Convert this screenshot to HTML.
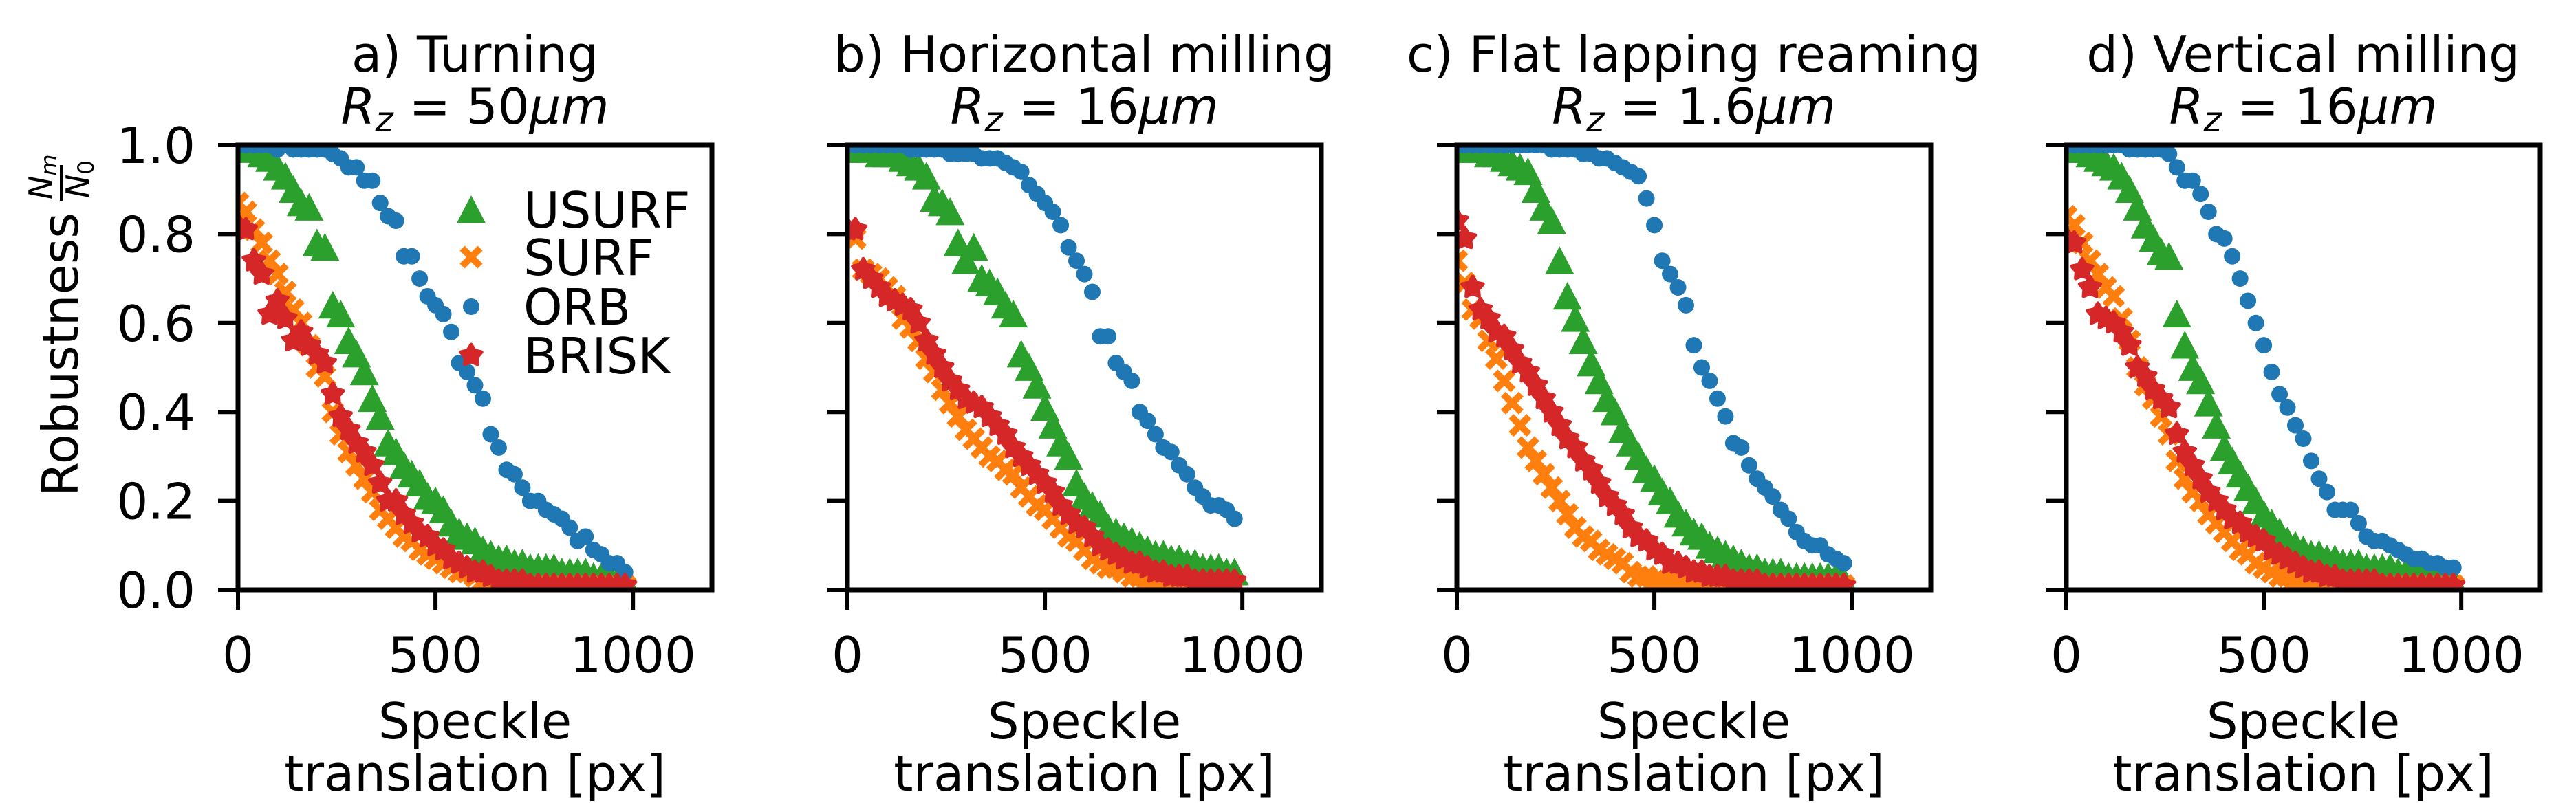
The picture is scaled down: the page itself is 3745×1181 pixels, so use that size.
<!DOCTYPE html>
<html><head><meta charset="utf-8">
<style>
html,body{margin:0;padding:0;background:#fff;}
svg{display:block;font-family:"DejaVu Sans","Liberation Sans",sans-serif;}
</style></head>
<body>
<svg id="fig" xmlns="http://www.w3.org/2000/svg" width="3745" height="1181" viewBox="0 0 3745 1181">
<rect width="3745" height="1181" fill="#fff"/>
</svg>
<script>
// ---- data ----
const xStep = 20;
const panelTitles = ["a) Turning","b) Horizontal milling","c) Flat lapping reaming","d) Vertical milling"];
const panelRz = ["50","16","1.6","16"];
const seriesNames = ["USURF","SURF","ORB","BRISK"];
const xTicks = [0,500,1000];
const xTickLabels = ["0","500","1000"];
const yTicks = [0,0.2,0.4,0.6,0.8,1.0];
const yTickLabels = ["0.0","0.2","0.4","0.6","0.8","1.0"];

const aUSURF=[1.0,.99,.99,.98,.97,.95,.93,.90,.87,.86,.78,.77,.64,.62,.56,.53,.49,.43,.39,.33,.31,.28,.26,.24,.21,.20,.18,.15,.13,.12,.11,.09,.08,.07,.07,.06,.06,.05,.05,.05,.05,.04,.04,.04,.04,.03,.03,.03,.02,.02];
const aSURF=[.87,.85,.81,.78,.74,.71,.67,.63,.60,.55,.50,.48,.40,.35,.31,.28,.25,.22,.18,.16,.14,.12,.11,.09,.08,.07,.06,.05,.04,.04,.03,.02,.02,.01,.01,.01,.01,.01,.01,.01,.01,.01,.01,.01,.01,.01,.01,.01,.01,.01];
const aORB=[1.0,1.0,1.0,1.0,1.0,.99,1.0,.99,.99,.99,.99,.99,.98,.97,.95,.95,.92,.92,.87,.84,.83,.75,.75,.70,.66,.64,.62,.58,.51,.49,.46,.43,.35,.32,.27,.26,.23,.20,.20,.18,.17,.16,.14,.11,.12,.09,.08,.06,.06,.04];
const aBRISK=[.82,.81,.74,.71,.62,.65,.61,.56,.58,.55,.53,.51,.44,.39,.36,.33,.31,.28,.24,.20,.20,.17,.15,.13,.12,.10,.09,.07,.06,.05,.04,.04,.03,.02,.02,.02,.02,.01,.01,.01,.01,.01,.01,.01,.01,.01,.01,.01,.01,.01];

const bUSURF=[.99,.99,.99,.99,.98,.98,.98,.97,.96,.95,.93,.88,.87,.85,.78,.74,.77,.70,.69,.67,.64,.62,.53,.50,.46,.41,.37,.33,.30,.24,.21,.19,.17,.14,.13,.12,.11,.10,.09,.08,.08,.07,.07,.06,.06,.05,.05,.05,.04,.04];
const bSURF=[.80,.79,.72,.71,.70,.68,.66,.61,.59,.56,.52,.49,.45,.42,.39,.36,.34,.32,.30,.29,.27,.26,.23,.21,.19,.18,.16,.14,.12,.11,.09,.07,.06,.05,.05,.04,.03,.03,.02,.02,.02,.01,.01,.01,.01,.01,.01,.01,.01,.01];
const bORB=[1.0,1.0,1.0,1.0,1.0,1.0,1.0,1.0,.99,.99,.99,.99,.99,.98,.98,.98,.98,.97,.97,.97,.96,.95,.94,.91,.89,.87,.85,.82,.77,.74,.71,.67,.57,.57,.51,.49,.47,.40,.38,.35,.32,.31,.28,.26,.23,.21,.19,.19,.18,.16];
const bBRISK=[.81,.81,.72,.70,.68,.66,.65,.64,.63,.60,.56,.53,.50,.47,.45,.43,.42,.41,.39,.37,.35,.32,.30,.28,.26,.24,.22,.19,.17,.15,.14,.12,.10,.09,.08,.07,.06,.06,.05,.04,.04,.03,.03,.03,.02,.02,.02,.02,.02,.02];

const cUSURF=[.99,.99,.99,.99,.98,.98,.97,.96,.95,.94,.90,.86,.83,.74,.66,.61,.56,.51,.47,.43,.40,.36,.33,.30,.27,.25,.22,.20,.17,.15,.13,.12,.10,.09,.08,.07,.06,.05,.05,.04,.04,.04,.03,.03,.03,.03,.03,.03,.03,.02];
const cSURF=[.74,.69,.63,.61,.56,.52,.47,.42,.37,.32,.29,.26,.23,.20,.17,.14,.12,.11,.09,.08,.07,.06,.04,.03,.03,.02,.02,.02,.01,.01,.01,.01,.01,.01,.01,.01,.01,.01,.01,.01,.01,.01,.01,.01,.01,.01,.01,.01,.01,.01];
const cORB=[1.0,1.0,1.0,1.0,1.0,1.0,1.0,1.0,1.0,1.0,1.0,1.0,.99,.99,.99,.99,.98,.98,.97,.97,.96,.95,.94,.93,.88,.82,.74,.71,.68,.64,.55,.50,.47,.43,.39,.33,.32,.28,.25,.23,.21,.18,.16,.13,.11,.10,.10,.08,.07,.06];
const cBRISK=[.83,.79,.68,.63,.61,.58,.57,.54,.51,.49,.46,.43,.40,.37,.34,.32,.29,.27,.24,.21,.19,.17,.14,.12,.11,.09,.08,.06,.06,.05,.04,.04,.03,.03,.03,.02,.02,.02,.02,.01,.01,.01,.01,.01,.01,.01,.01,.01,.01,.01];

const dUSURF=[.99,.99,.99,.98,.97,.96,.95,.93,.90,.86,.82,.79,.76,.75,.62,.55,.50,.47,.42,.37,.32,.29,.26,.23,.20,.17,.15,.13,.11,.10,.09,.08,.08,.07,.07,.06,.06,.06,.05,.05,.05,.05,.04,.04,.04,.04,.03,.03,.03,.02];
const dSURF=[.84,.82,.78,.74,.71,.68,.66,.61,.56,.50,.46,.43,.39,.35,.29,.25,.22,.20,.17,.15,.13,.11,.09,.08,.06,.05,.04,.03,.03,.02,.02,.02,.01,.01,.01,.01,.01,.01,.01,.01,.01,.01,.01,.01,.01,.01,.01,.01,.01,.01];
const dORB=[1.0,1.0,1.0,1.0,1.0,1.0,1.0,1.0,.99,.99,.99,.99,.99,.98,.95,.92,.92,.89,.85,.80,.79,.75,.70,.65,.60,.55,.49,.44,.41,.37,.34,.29,.25,.22,.18,.18,.18,.15,.12,.11,.11,.10,.09,.08,.07,.07,.06,.06,.05,.05];
const dBRISK=[.79,.78,.72,.68,.62,.61,.60,.58,.55,.50,.48,.45,.43,.41,.35,.31,.28,.25,.22,.20,.18,.16,.15,.13,.12,.11,.09,.08,.07,.06,.05,.04,.04,.03,.03,.02,.02,.02,.02,.02,.01,.01,.01,.01,.01,.01,.01,.01,.01,.01];

const panelSeries=[[aUSURF,aSURF,aORB,aBRISK],[bUSURF,bSURF,bORB,bBRISK],[cUSURF,cSURF,cORB,cBRISK],[dUSURF,dSURF,dORB,dBRISK]];

// ---- layout ----
const NS="http://www.w3.org/2000/svg";
const svg=document.getElementById('fig');
const colors=["#2ca02c","#ff7f0e","#1f77b4","#d62728"];
const P0=346, PSTEP=886, PW=689, PT=211, PB=858;
const XMAX=1200;
const FS=72;
function mk(tag,attrs,parent){const e=document.createElementNS(NS,tag);for(const k in attrs)e.setAttribute(k,attrs[k]);(parent||svg).appendChild(e);return e;}
function txt(s,x,y,anchor,parent){
  const t=mk('text',{x:x,y:y,'font-size':FS,'text-anchor':anchor},parent);
  t.textContent=s;return t;
}
function marker(kind,cx,cy,g){
  if(kind===0){const s=21;mk('polygon',{points:`${cx},${cy-s} ${cx-s},${cy+s*0.92} ${cx+s},${cy+s*0.92}`,fill:colors[0]},g);}
  else if(kind===1){const s=13;mk('path',{d:`M${cx-s},${cy-s}L${cx+s},${cy+s}M${cx-s},${cy+s}L${cx+s},${cy-s}`,stroke:colors[1],'stroke-width':10,fill:'none'},g);}
  else if(kind===2){mk('circle',{cx:cx,cy:cy,r:12,fill:colors[2]},g);}
  else {let pts=[];for(let i=0;i<10;i++){const r=i%2?9:16;const a=-Math.PI/2+i*Math.PI/5;pts.push((cx+r*Math.cos(a)).toFixed(1)+','+(cy+r*Math.sin(a)).toFixed(1));}
    mk('polygon',{points:pts.join(' '),fill:colors[3],stroke:colors[3],'stroke-width':5,'stroke-linejoin':'round'},g);}
}
const defs=mk('defs',{});
panelSeries.forEach((series,p)=>{
  const L=P0+p*PSTEP;
  const xs=v=>L+v/XMAX*PW;
  const ys=v=>PB-v*(PB-PT);
  const g=mk('g',{});
  
  
  const cp=mk('clipPath',{id:'clip'+p},defs);
  mk('rect',{x:L,y:PT,width:PW,height:PB-PT},cp);
  const dg=mk('g',{'clip-path':`url(#clip${p})`},g);
  series.forEach((vals,s)=>{
    const sg=mk('g',{},dg);
    
    
    vals.forEach((v,i)=>{marker(s,xs(i*xStep),ys(v),sg);});
  });
  const fr=mk('rect',{x:L,y:PT,width:PW,height:PB-PT,fill:'none',stroke:'#000','stroke-width':7},g);
  
  
  xTicks.forEach((t,i)=>{
    mk('line',{x1:xs(t),x2:xs(t),y1:PB,y2:PB+29,stroke:'#000','stroke-width':6},g);
    const tl=txt(xTickLabels[i],xs(t),978,'middle',g);
    
    
  });
  yTicks.forEach((t,i)=>{
    mk('line',{x1:L-29,x2:L,y1:ys(t),y2:ys(t),stroke:'#000','stroke-width':6},g);
    if(p===0){
      const tl=txt(yTickLabels[i],284,ys(t)+26,'end',g);
      
      
    }
  });
  const cx=L+PW/2;
  const t1=txt(panelTitles[p],cx,104,'middle',g);
  
  
  const t2=mk('text',{x:cx,y:180,'font-size':FS,'text-anchor':'middle'},g);
  t2.innerHTML=`<tspan font-style="italic">R</tspan><tspan font-style="italic" font-size="50" dy="11">z</tspan><tspan dy="-11"> = ${panelRz[p]}</tspan><tspan font-style="italic">μm</tspan>`;
  
  
  const x1=txt('Speckle',cx,1074,'middle',g);
  
  
  const x2=txt('translation [px]',cx,1150,'middle',g);
  
  
});
// legend
const lg=mk('g',{});


const legY=[305,374,446,517];
seriesNames.forEach((n,s)=>{
  const eg=mk('g',{},lg);
  
  
  marker(s,685,legY[s],eg);
  txt(n,761,legY[s]+26,'start',eg);
});
// y label
const yl=mk('g',{transform:'translate(113,722) rotate(-90)'});


txt('Robustness',0,0,'start',yl);
mk('line',{x1:430,x2:482,y1:-24,y2:-24,stroke:'#000','stroke-width':4},yl);
const nm=mk('text',{x:432,y:-38,'font-size':46,'font-style':'italic'},yl);
nm.innerHTML='N<tspan font-size="32" dy="7">m</tspan>';
const n0=mk('text',{x:434,y:16,'font-size':46,'font-style':'italic'},yl);
n0.innerHTML='N<tspan font-size="32" font-style="normal" dy="7">0</tspan>';
</script>
</body></html>
